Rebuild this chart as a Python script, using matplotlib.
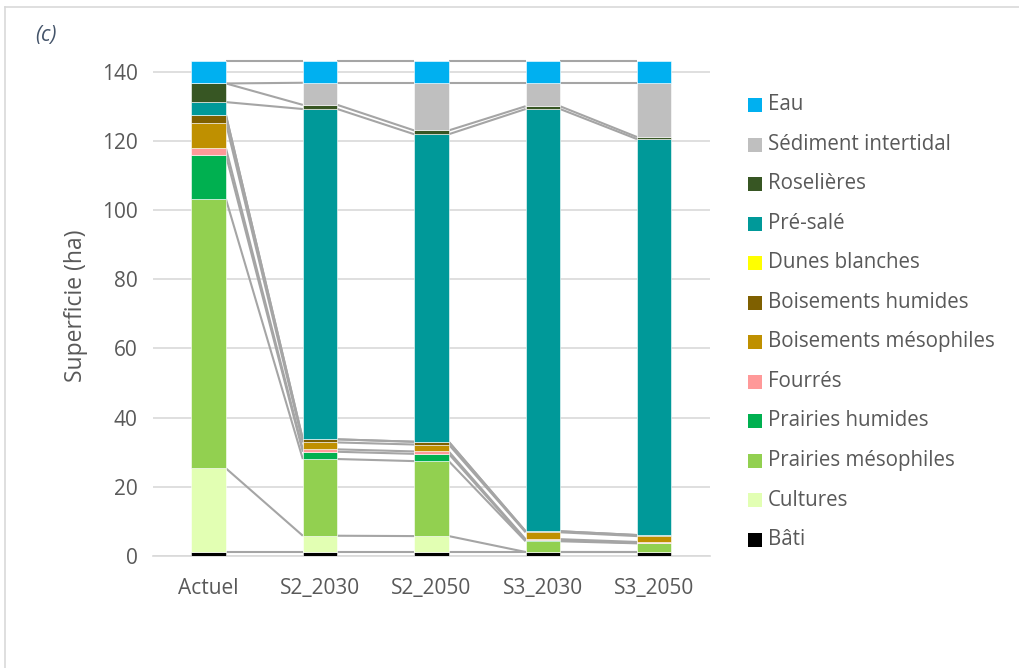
import matplotlib
matplotlib.use("Agg")
import matplotlib.pyplot as plt
from matplotlib.patches import Rectangle
from matplotlib.lines import Line2D
import numpy as np

plt.rcParams['font.family'] = ['Open Sans', 'DejaVu Sans']

categories = ["Actuel", "S2_2030", "S2_2050", "S3_2030", "S3_2050"]

# series listed bottom -> top
series_names = ["Bâti", "Cultures", "Prairies mésophiles", "Prairies humides", "Fourrés",
                "Boisements mésophiles", "Boisements humides", "Dunes blanches", "Pré-salé",
                "Roselières", "Sédiment intertidal", "Eau"]
bati        = [1.1, 1.1, 1.1, 1.1, 1.1]
cultures    = [24.2, 4.7, 4.6, 0.0, 0.0]
prairies_mes = [77.9, 22.2, 21.7, 3.1, 2.5]
prairies_hum = [12.7, 2.1, 2.1, 0.3, 0.1]
fourres     = [2.0, 0.7, 0.7, 0.3, 0.3]
bois_mes    = [7.3, 2.0, 2.0, 2.0, 1.7]
bois_hum    = [2.3, 0.9, 0.8, 0.3, 0.3]
dunes       = [0.0, 0.0, 0.0, 0.0, 0.0]
pre_sale    = [3.8, 95.6, 89.0, 122.2, 114.6]
roselieres  = [5.4, 1.2, 1.1, 0.8, 0.6]
sediment    = [0.0, 6.4, 13.8, 6.8, 15.7]
eau         = [6.5, 6.3, 6.3, 6.3, 6.3]
values = [bati, cultures, prairies_mes, prairies_hum, fourres, bois_mes, bois_hum,
          dunes, pre_sale, roselieres, sediment, eau]
colors = ["#000000", "#E2FFB3", "#92D050", "#00B050", "#FF9999", "#BF9000", "#7F6000",
          "#FFFF00", "#009999", "#375623", "#BFBFBF", "#00B0F0"]

yticks = [0, 20, 40, 60, 80, 100, 120, 140]

fig = plt.figure(figsize=(10.2, 6.68), dpi=100)
ax = fig.add_axes([0.15, 0.168, 0.546, 0.75])

x = np.arange(len(categories))
width = 0.31
bottom = np.zeros(len(categories))
tops = []
for vals, col in zip(values, colors):
    v = np.array(vals)
    ax.bar(x, v, width, bottom=bottom, color=col, edgecolor='white', linewidth=0.4, zorder=3)
    bottom = bottom + v
    tops.append(bottom.copy())

# Excel-style series lines
for t in tops:
    for i in range(len(categories) - 1):
        ax.plot([x[i] + width / 2, x[i + 1] - width / 2], [t[i], t[i + 1]],
                color="#A5A5A5", lw=1.5, zorder=2, solid_capstyle='butt')

ax.set_xlim(-0.5, len(categories) - 0.5)
ax.set_ylim(0, 145)
ax.set_yticks(yticks)
ax.set_xticks(x)
ax.set_xticklabels(categories)
ax.yaxis.grid(True, color="#D9D9D9", lw=1.2, zorder=0)
ax.set_axisbelow(True)
for s in ["top", "right", "left"]:
    ax.spines[s].set_visible(False)
ax.spines["bottom"].set_color("#D9D9D9")
ax.spines["bottom"].set_linewidth(1.2)
ax.tick_params(length=0, labelsize=15, colors="#595959")
ax.tick_params(axis='y', pad=11)
ax.tick_params(axis='x', pad=16)
ax.set_ylabel("Superficie (ha)", fontsize=16.5, color="#595959", labelpad=10)

# legend (manual, Excel-like)
lx = 748 / 1020
for k, (name, col) in enumerate(zip(series_names[::-1], colors[::-1])):
    ypx = 105 + k * 39.5
    yf = 1 - ypx / 668
    fig.patches.append(Rectangle((lx, yf - 7 / 668), 14 / 1020, 14 / 668,
                                 transform=fig.transFigure, facecolor=col, edgecolor='none'))
    fig.text(lx + 20 / 1020, yf, name, fontsize=14.8, color="#595959", va='center', ha='left')

fig.text(35 / 1020, 1 - 36 / 668, "(c)", fontsize=15, style='italic', color="#44546A",
         va='center', ha='left')

# chart border (left & top)
fig.add_artist(Line2D([5 / 1020, 5 / 1020], [0, 1 - 7 / 668], transform=fig.transFigure,
                      color="#D9D9D9", lw=1.2))
fig.add_artist(Line2D([5 / 1020, 1], [1 - 7 / 668, 1 - 7 / 668], transform=fig.transFigure,
                      color="#D9D9D9", lw=1.2))

fig.savefig("out.png", dpi=100)
